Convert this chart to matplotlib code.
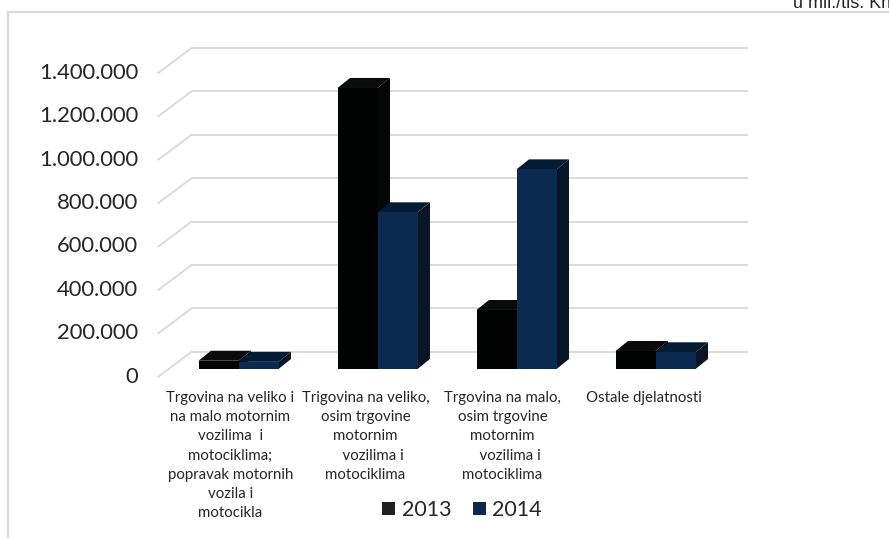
import matplotlib
matplotlib.use("Agg")
import matplotlib.pyplot as plt
from matplotlib.patches import Polygon
from matplotlib.lines import Line2D

# ---------------- data ----------------
categories = [
    "Trgovina na veliko i\nna malo motornim\nvozilima  i\nmotociklima;\npopravak motornih\nvozila i\nmotocikla",
    "Trigovina na veliko,\nosim trgovine\nmotornim\n    vozilima i\nmotociklima",
    "Trgovina na malo,\nosim trgovine\nmotornim\n    vozilima i\nmotociklima",
    "Ostale djelatnosti",
]
series_names = ["2013", "2014"]
values_2013 = [38000, 1295000, 272000, 83000]
values_2014 = [33000, 722000, 920000, 77000]
y_ticks = [0, 200000, 400000, 600000, 800000, 1000000, 1200000, 1400000]
unit_label = "u mil./tis. Kn"

# ---------------- layout helpers ----------------
W, H = 889, 538
fig = plt.figure(figsize=(W / 100, H / 100), dpi=100)
ax = fig.add_axes([0, 0, 1, 1])
ax.axis("off")

GROUP_PX = 139.0            # pixels per category unit
X0_PX = 238.5               # pixel x of category 0 centre
BASE_PX = 369.0             # pixel y (from top) of value 0 at bar front plane
PX_PER_200K = 43.4
VPP = 200000 / PX_PER_200K  # value per pixel

ax.set_xlim(-X0_PX / GROUP_PX, (W - X0_PX) / GROUP_PX)
ax.set_ylim(-(H - BASE_PX) * VPP, BASE_PX * VPP)

def dx(px):
    return px / GROUP_PX

def dy(px):
    return px * VPP

grid_col = "#D9D9D9"
# back wall & floor offsets relative to the bar front plane (pixels)
back_dy = 17.3
front_dy = -7.7
wall_left = dx(191.7 - X0_PX)
wall_right = dx(748 - X0_PX)
floor_left = dx(158.3 - X0_PX)

for v in y_ticks:
    yb = v + dy(back_dy)
    yf = v + dy(front_dy)
    ax.plot([wall_left, wall_right], [yb, yb], color=grid_col, lw=1.3, zorder=1,
            solid_capstyle="butt")
    ax.plot([floor_left, wall_left], [yf, yb], color=grid_col, lw=1.3, zorder=1)
    lab = f"{v:,}".replace(",", ".")
    ax.text(dx(138 - X0_PX), yf, lab, ha="right", va="center",
            fontsize=15.8, family="Lato", color="#262626")

# ---------------- 3D-looking bars ----------------
bw = dx(40)
ddx, ddy = dx(12.5), dy(10)
styles = [
    dict(front="#010303", top="#0B0B0B", side="#050505"),
    dict(front="#0B2A4F", top="#041B34", side="#081527"),
]
series = [values_2013, values_2014]

z = 3
for i in range(len(categories)):
    for s, vals in enumerate(series):
        v = vals[i]
        xc = i + (s - 0.5) * bw
        xl, xr = xc - bw / 2, xc + bw / 2
        st = styles[s]
        side = Polygon([(xr, 0), (xr, v), (xr + ddx, v + ddy), (xr + ddx, ddy)],
                       closed=True, facecolor=st["side"], edgecolor="none", zorder=z)
        top = Polygon([(xl, v), (xr, v), (xr + ddx, v + ddy), (xl + ddx, v + ddy)],
                      closed=True, facecolor=st["top"], edgecolor="none", zorder=z)
        ax.add_patch(side)
        ax.add_patch(top)
        ax.bar([xc], [v], width=bw, bottom=0, color=st["front"], zorder=z + 0.5,
               linewidth=0)
        z += 1

# ---------------- category labels ----------------
label_top = dy(BASE_PX - 391)
label_dx = [-8, -12, -14, -12]
for i, c in enumerate(categories):
    ax.text(i + dx(label_dx[i]), label_top, c, ha="center", va="top",
            multialignment="center", fontsize=10.8, family="Lato", color="#262626",
            linespacing=1.47)

# ---------------- legend ----------------
handles = [plt.Rectangle((0, 0), 1, 1, facecolor=styles[k]["front"] if k else "#231F20")
           for k in range(2)]
fig.legend(handles, series_names, loc="center", bbox_to_anchor=(462 / W, 1 - 510 / H),
           ncol=2, frameon=False, prop={"family": "Lato", "size": 15.5},
           handlelength=0.6, handleheight=0.6, handletextpad=0.3, columnspacing=1.0,
           labelcolor="#262626")

# ---------------- chart border & unit text ----------------
fig.add_artist(Line2D([8 / W, 8 / W], [0, 1 - 12 / H], color=grid_col, lw=1.6,
                      transform=fig.transFigure))
fig.add_artist(Line2D([8 / W, 1], [1 - 12 / H, 1 - 12 / H], color=grid_col, lw=1.6,
                      transform=fig.transFigure))
fig.text(793 / W, 1 - 8 / H, unit_label, ha="left", va="baseline", fontsize=13,
         family="Liberation Sans", color="#262626")

fig.savefig("out.png", dpi=100)
